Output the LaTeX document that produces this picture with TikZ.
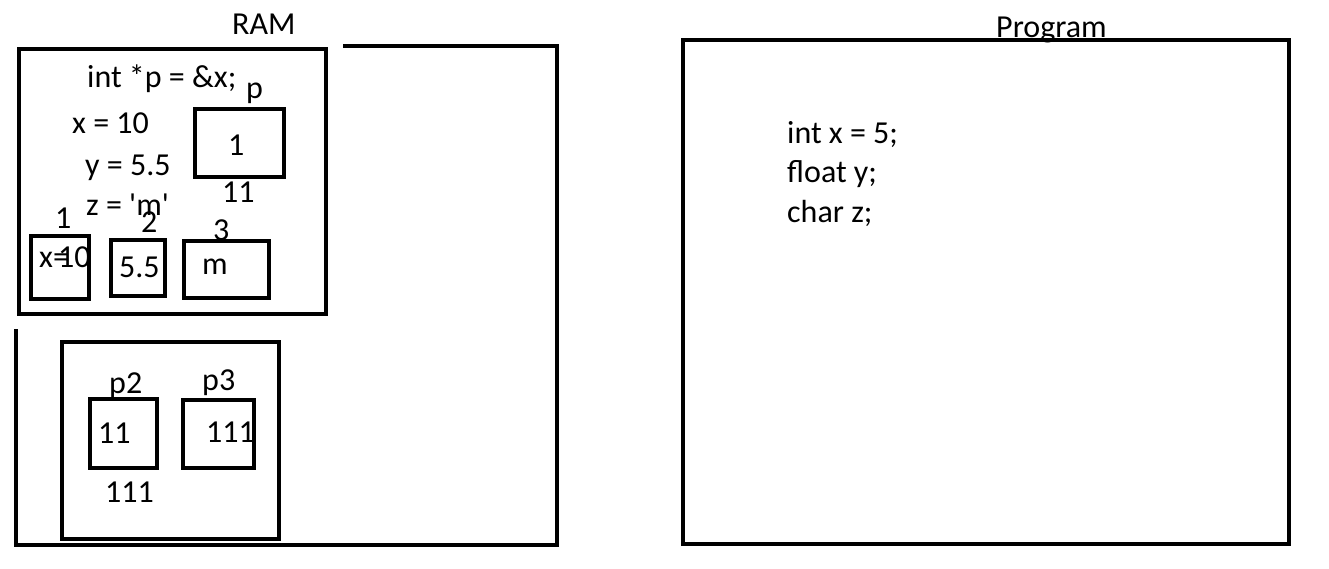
\documentclass[tikz,border=0pt]{standalone}
\usepackage{fontspec}
\setmainfont{Carlito}

\begin{document}
\begin{tikzpicture}[x=1pt,y=1pt,yscale=-1,xscale=1,
  box/.style={line width=4pt},
  lbl/.style={anchor=base west,inner sep=0pt,font=\fontsize{32}{38}\selectfont}]
		\useasboundingbox (0,0) rectangle (1329,568);
		
		% Text Node
		\draw (232,34) node (ram) [lbl] {RAM};
		% Text Node
		\draw (996,37) node (prog) [lbl] {Program};
		% Text Node
		\draw (87,87) node (pdecl) [lbl] {int *p = \&x;};
		% Text Node
		\draw (246,98) node (pname) [lbl] {p};
		% Text Node
		\draw (72,133) node (xset) [lbl] {x = 10};
		% Text Node
		\draw (85,175) node (yset) [lbl] {y = 5.5};
		% Text Node
		\draw (86,215) node (zset) [lbl] {z = \textquotesingle m\textquotesingle};
		% Text Node
		\draw (228,155) node (pval) [lbl] {1};
		% Text Node
		\draw (222,202) node (paddr) [lbl] {11};
		% Text Node
		\draw (55,228) node (xaddr) [lbl] {1};
		% Text Node
		\draw (141,232) node (yaddr) [lbl] {2};
		% Text Node
		\draw (213,240) node (zaddr) [lbl] {3};
		% Text Node
		\draw (39,267) node (xeq) [lbl] {x=};
		% Text Node
		\draw (58,267) node (xval) [lbl] {10};
		% Text Node
		\draw (119,277) node (yval) [lbl] {5.5};
		% Text Node
		\draw (202,274) node (zval) [lbl] {m};
		% Text Node
		\draw (109,393) node (ptwo) [lbl] {p2};
		% Text Node
		\draw (202,390) node (pthree) [lbl] {p3};
		% Text Node
		\draw (98,443) node (ptwoval) [lbl] {11};
		% Text Node
		\draw (206,442) node (pthreeval) [lbl] {111};
		% Text Node
		\draw (105,502) node (ptwoaddr) [lbl] {111};
		% Text Node
		\draw (787,143) node (cx) [lbl] {int x = 5;};
		% Text Node
		\draw (787,182) node (cy) [lbl] {float y;};
		% Text Node
		\draw (787,222) node (cz) [lbl] {char z;};
		
		%Shape: Frame (RAM)
		\draw [box] (16,329) -- (16,545) -- (557,545) -- (557,46) -- (343,46) ;
		%Shape: Rectangle
		\draw [box] (19,49) rectangle (326,314) ;
		%Shape: Rectangle
		\draw [box] (195,109) rectangle (284,177) ;
		%Shape: Rectangle
		\draw [box] (31,236) rectangle (89,299) ;
		%Shape: Rectangle
		\draw [box] (111,240) rectangle (165,296) ;
		%Shape: Rectangle
		\draw [box] (184,241) rectangle (269,298) ;
		%Shape: Rectangle
		\draw [box] (62,342) rectangle (279,539) ;
		%Shape: Rectangle
		\draw [box] (90,399) rectangle (157,468) ;
		%Shape: Rectangle
		\draw [box] (183,400) rectangle (254,468) ;
		%Shape: Rectangle (Program)
		\draw [box] (683,40) rectangle (1289,544) ;
		
\end{tikzpicture}
\end{document}
